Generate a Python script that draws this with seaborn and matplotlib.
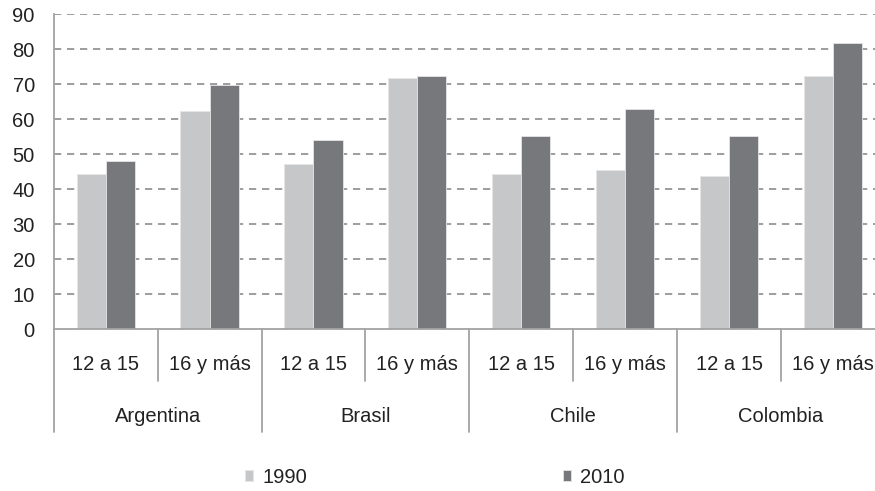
import pandas as pd
import matplotlib.pyplot as plt
import seaborn as sns

# -----------------------------
# Data
# -----------------------------
countries = ['Argentina', 'Brasil', 'Chile', 'Colombia']
age_groups = ['12 a 15', '16 y más']
years = ['1990', '2010']
values_1990 = [44.4, 62.3, 47.1, 71.9, 44.4, 45.5, 43.8, 72.3]
values_2010 = [48.1, 69.8, 54.0, 72.3, 55.2, 62.8, 55.2, 81.7]
y_ticks = list(range(0, 100, 10))

slots = [f'{c}|{a}' for c in countries for a in age_groups]
df = pd.DataFrame({
    'slot': slots * 2,
    'year': [years[0]] * len(slots) + [years[1]] * len(slots),
    'value': values_1990 + values_2010,
})

colors = {'1990': '#c6c7c9', '2010': '#77787c'}
axis_grey = '#a3a3a3'
fs = 14.5

sns.set_style('white')
plt.rcParams['font.family'] = ['Liberation Sans', 'DejaVu Sans']

fig = plt.figure(figsize=(8.75, 4.91), dpi=100)
ax = fig.add_axes([0.0614, 0.3293, 0.950, 0.6416])

sns.barplot(data=df, x='slot', y='value', hue='year', order=slots,
            hue_order=years, palette=colors, width=0.56, ax=ax,
            edgecolor='#e6e6e6', linewidth=0.6, saturation=1)

handles, labels = ax.get_legend_handles_labels()
ax.get_legend().remove()

# -----------------------------
# Axes styling
# -----------------------------
ax.set_ylim(0, 90)
ax.set_xlim(-0.5, len(slots) - 0.5)
ax.set_yticks(y_ticks)
ax.set_yticklabels([str(t) for t in y_ticks], fontsize=fs, color='#222222')
ax.tick_params(axis='y', length=3.6, width=1.2, color=axis_grey, pad=10)
ax.set_xticks([])
ax.set_xlabel('')
ax.set_ylabel('')

for t in y_ticks[1:]:
    ax.axhline(t, color='#959595', lw=1.3, linestyle=(0, (4.0, 3.2)), zorder=0)

for side in ['top', 'right']:
    ax.spines[side].set_visible(False)
for side in ['left', 'bottom']:
    ax.spines[side].set_color(axis_grey)
    ax.spines[side].set_linewidth(1.3)

# -----------------------------
# Two-level category axis
# -----------------------------
trans = ax.get_xaxis_transform()
for i, s in enumerate(slots):
    ax.text(i, -0.111, s.split('|')[1], transform=trans, ha='center',
            va='center', fontsize=fs, color='#222222')
for j, c in enumerate(countries):
    ax.text(2 * j + 0.5, -0.2775, c, transform=trans, ha='center',
            va='center', fontsize=fs, color='#222222')

for k in range(len(slots) + 1):
    x = k - 0.5
    bottom = -0.326 if k % 2 == 0 else -0.164
    ax.plot([x, x], [0, bottom], transform=trans, color=axis_grey,
            lw=1.3, clip_on=False)

# -----------------------------
# Legend
# -----------------------------
fig.legend(handles, labels, loc='center', bbox_to_anchor=(0.497, 0.0285),
           ncol=2, frameon=False, fontsize=fs, handlelength=0.42,
           handleheight=0.42, handletextpad=0.45, columnspacing=12.7,
           labelcolor='#222222')

plt.savefig('out.png', dpi=100)
